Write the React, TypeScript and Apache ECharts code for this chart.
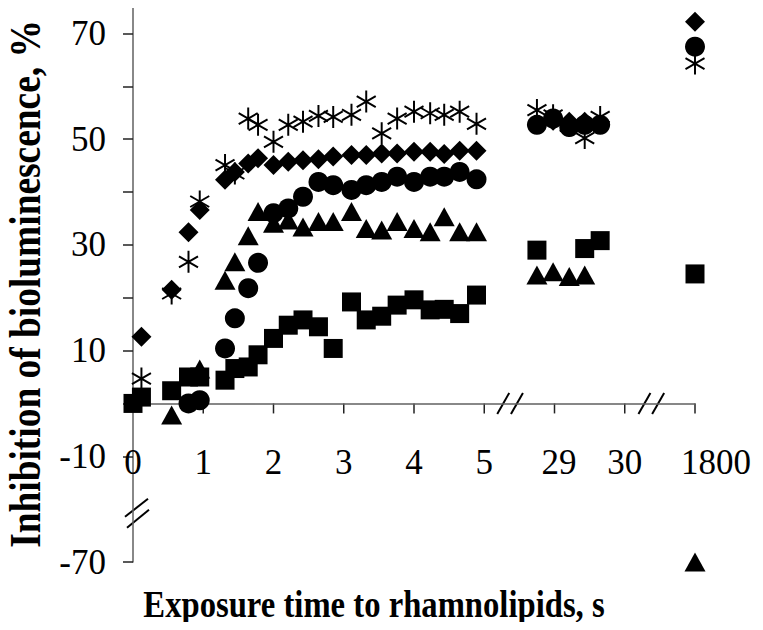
import React, { useEffect, useRef } from 'react';
import * as echarts from 'echarts';

// Exposure times (s)
const timesA = [0, 0.12, 0.55, 0.79, 0.95, 1.31, 1.45, 1.64, 1.78, 2.0, 2.21, 2.42, 2.64, 2.85, 3.11, 3.32, 3.54, 3.76, 4.0, 4.23, 4.43, 4.65, 4.89];
const timesB = [28.75, 28.98, 29.21, 29.43, 29.65];
const timeC = 1800;

// Inhibition of bioluminescence, %
const diamondA = [null, 12.6, 21.5, 32.4, 36.6, 42.3, 43.8, 45.4, 46.4, 45.1, 45.7, 46.0, 46.2, 46.7, 47.0, 47.0, 47.3, 47.3, 47.6, 47.6, 47.2, 47.8, 47.8];
const diamondB = [52.8, 53.5, 53.3, 53.3, 52.8];
const diamondC = 72.2;

const circleA = [null, null, null, 0.0, 0.6, 10.4, 16.1, 21.8, 26.6, 36.0, 36.9, 39.1, 41.9, 41.3, 40.4, 41.3, 41.9, 42.9, 41.9, 42.9, 42.9, 43.8, 42.4];
const circleB = [52.7, 53.9, 52.3, 52.7, 52.7];
const circleC = 67.5;

const triangleA = [null, null, -2.2, null, 6.5, 23.3, 26.8, 31.7, 36.3, 34.1, 34.7, 33.4, 34.4, 34.4, 36.3, 33.1, 32.8, 34.4, 33.1, 32.5, 35.3, 32.5, 32.5];
const triangleB = [24.3, 24.9, 24.0, 24.3, null];
const triangleC = -70;

const squareA = [0, 1.2, 2.4, 5.0, 5.0, 4.4, 6.6, 6.9, 9.2, 12.3, 14.8, 15.8, 14.5, 10.4, 19.2, 15.8, 16.5, 18.6, 19.6, 17.7, 17.8, 17.0, 20.5];
const squareB = [29.0, null, null, 29.3, 30.8];
const squareC = 24.5;

const asteriskA = [null, 4.7, 20.8, 26.8, 38.2, 45.1, 43.5, 53.9, 52.7, 49.5, 52.7, 53.3, 54.4, 54.2, 54.6, 57.1, 51.1, 53.9, 55.2, 54.9, 54.6, 55.2, 52.9];
const asteriskB = [55.5, 54.5, 52.5, 50.2, 54.2];
const asteriskC = 64.3;

// Axis tick labels
const xTickLabels = ['0', '1', '2', '3', '4', '5', '29', '30', '1800'];
const xTickValues = [0, 1, 2, 3, 4, 5, 6, 7, 8];
const yLabelValues = [70, 50, 30, 10, -10, -30];
const yTickLabels = ['70', '50', '30', '10', '-10', '-70'];
const yTickValues = [70, 60, 50, 40, 30, 20, 10, 0, -10, -30];

const FONT = '"Liberation Serif", "Times New Roman", serif';

const Y_MIN = -30;
const Y_MAX = 75;
const GRID_TOP = 7;
const GRID_BOTTOM = 68;
const H = 630;

// broken-axis mapping
const vx = (t: number) => (t <= 5 ? t : t < 100 ? 6 + (t - 29) : 8);
const vy = (v: number) => (v < -15 ? v + 40 : v);

function build(a: (number | null)[], b: (number | null)[], c: number | null) {
  const out: number[][] = [];
  a.forEach((v, i) => { if (v !== null) out.push([vx(timesA[i]), vy(v)]); });
  b.forEach((v, i) => { if (v !== null) out.push([vx(timesB[i]), vy(v)]); });
  if (c !== null) out.push([vx(timeC), vy(c)]);
  return out;
}

const ASTERISK =
  'path://M45.5 0 L54.5 0 L54.5 100 L45.5 100 Z ' +
  'M91.05 78.9 L4.45 28.9 L8.95 21.1 L95.55 71.1 Z ' +
  'M95.55 28.9 L8.95 78.9 L4.45 71.1 L91.05 21.1 Z';

export default function App() {
  const ref = useRef<HTMLDivElement>(null);
  useEffect(() => {
    if (!ref.current) return;
    const chart = echarts.init(ref.current, undefined, { renderer: 'svg' });
    const base = { type: 'scatter', itemStyle: { color: '#000', opacity: 1 }, silent: true };
    const gridH = H - GRID_TOP - GRID_BOTTOM;
    const zeroOffset = -(0 - Y_MIN) / (Y_MAX - Y_MIN) * gridH;
    chart.setOption({
      animation: false,
      textStyle: { fontFamily: FONT },
      grid: { left: 133, right: 68, top: GRID_TOP, bottom: GRID_BOTTOM },
      xAxis: {
        type: 'value', min: 0, max: 8, interval: 1,
        offset: zeroOffset,
        splitLine: { show: false },
        axisLine: { show: true, onZero: false, lineStyle: { color: '#606060', width: 1.5 } },
        axisTick: { show: false },
        axisLabel: {
          margin: 42, color: '#000', fontSize: 35, fontFamily: FONT,
          customValues: xTickValues,
          formatter: (v: number) => {
            const i = Math.round(v);
            if (i === 8) return '{far|' + xTickLabels[i] + '}';
            if (i === 6) return '{mid|' + xTickLabels[i] + '}';
            return xTickLabels[i];
          },
          rich: {
            far: { padding: [0, 0, 0, 42], fontSize: 35, fontFamily: FONT, color: '#000' },
            mid: { padding: [0, 0, 0, 9], fontSize: 35, fontFamily: FONT, color: '#000' },
          },
        },
      },
      yAxis: {
        type: 'value', min: Y_MIN, max: Y_MAX,
        splitLine: { show: false },
        axisLine: { show: true, onZero: false, lineStyle: { color: '#606060', width: 1.5 } },
        axisTick: { show: true, length: 10, customValues: yTickValues, lineStyle: { color: '#222', width: 1.5 } },
        axisLabel: {
          margin: 27, color: '#000', fontSize: 35, fontFamily: FONT,
          customValues: yLabelValues,
          formatter: (v: number) => {
            const i = yLabelValues.indexOf(Math.round(v));
            return i >= 0 ? yTickLabels[i] : '';
          },
        },
      },
      series: [
        { ...base, name: 'asterisk', symbol: ASTERISK, symbolSize: [20, 22], data: build(asteriskA, asteriskB, asteriskC) },
        { ...base, name: 'diamond', symbol: 'diamond', symbolSize: 20, data: build(diamondA, diamondB, diamondC) },
        { ...base, name: 'square', symbol: 'rect', symbolSize: 19, data: build(squareA, squareB, squareC) },
        { ...base, name: 'triangle', symbol: 'triangle', symbolSize: [21, 19], data: build(triangleA, triangleB, triangleC) },
        { ...base, name: 'circle', symbol: 'circle', symbolSize: 20, data: build(circleA, circleB, circleC) },
      ],
    });

    const p0 = chart.convertToPixel({ gridIndex: 0 }, [0, 0]) as number[];
    const cx = p0[0];
    const y0 = p0[1];
    const yb = (chart.convertToPixel({ gridIndex: 0 }, [0, -20.5]) as number[])[1];
    const xb1 = (chart.convertToPixel({ gridIndex: 0 }, [5.37, 0]) as number[])[0];
    const xb2 = (chart.convertToPixel({ gridIndex: 0 }, [7.38, 0]) as number[])[0];
    const ls = { stroke: '#000', lineWidth: 2 };
    const xBreak = (c: number) => [
      { type: 'rect', shape: { x: c - 7, y: y0 - 3, width: 14, height: 6 }, style: { fill: '#fff' } },
      { type: 'line', shape: { x1: c - 13, y1: y0 + 10.5, x2: c - 1, y2: y0 - 10.5 }, style: ls },
      { type: 'line', shape: { x1: c + 0.7, y1: y0 + 10.5, x2: c + 12.7, y2: y0 - 10.5 }, style: ls },
    ];
    const xTicks = xTickValues.slice(1).map((v) => {
      const px = (chart.convertToPixel({ gridIndex: 0 }, [v, 0]) as number[])[0];
      return { type: 'line', shape: { x1: px, y1: y0, x2: px, y2: y0 + 10 }, style: { stroke: '#222', lineWidth: 1.5 } };
    });
    chart.setOption({
      graphic: [
        ...xTicks,
        { type: 'rect', shape: { x: cx - 4, y: yb - 13, width: 8, height: 26 }, style: { fill: '#fff' } },
        { type: 'line', shape: { x1: cx - 8, y1: yb + 5, x2: cx + 15, y2: yb - 13 }, style: ls },
        { type: 'line', shape: { x1: cx - 6, y1: yb + 16, x2: cx + 16, y2: yb - 2 }, style: ls },
        ...xBreak(xb1),
        ...xBreak(xb2),
        {
          type: 'text', x: 374, y: 604, scaleX: 0.86,
          style: { text: 'Exposure time to rhamnolipids, s', font: 'bold 38px ' + FONT, fill: '#000', align: 'center', verticalAlign: 'middle' },
        },
        {
          type: 'text', x: 25, y: 284, rotation: Math.PI / 2, scaleX: 0.85,
          style: { text: 'Inhibition of bioluminescence, %', font: 'bold 44px ' + FONT, fill: '#000', align: 'center', verticalAlign: 'middle' },
        },
      ],
    });
    return () => chart.dispose();
  }, []);
  return <div ref={ref} style={{ width: 763, height: 630, margin: -8 }} />;
}
